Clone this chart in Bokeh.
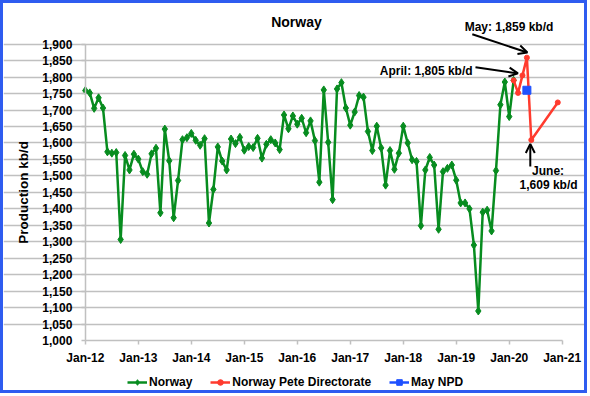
from bokeh.plotting import figure
from bokeh.models import (Range1d, FixedTicker, NumeralTickFormatter, Label, Arrow,
                          OpenHead, Legend, LegendItem)
from bokeh.embed import file_html
from bokeh.resources import INLINE

# ---------------- data (month index 0 = Jan-12) ----------------
norway = [1759, 1752, 1705, 1737, 1706, 1573, 1569, 1571, 1307, 1562, 1518, 1566,
          1551, 1513, 1505, 1567, 1584, 1388, 1642, 1546, 1373, 1486, 1610, 1616,
          1629, 1608, 1593, 1613, 1357, 1459, 1588, 1545, 1518, 1612, 1598, 1617,
          1578, 1589, 1586, 1614, 1554, 1596, 1610, 1600, 1580, 1685, 1643, 1682,
          1657, 1675, 1631, 1667, 1607, 1481, 1761, 1602, 1428, 1764, 1783, 1706,
          1654, 1694, 1744, 1739, 1635, 1577, 1651, 1585, 1472, 1577, 1520, 1569,
          1651, 1600, 1549, 1544, 1349, 1518, 1556, 1533, 1338, 1513, 1523, 1533,
          1487, 1418, 1418, 1400, 1290, 1090, 1390, 1396, 1333, 1516, 1716, 1785,
          1680, 1790]
norway_months = list(range(len(norway)))

npd_months = [97, 98, 99, 100, 101, 107]
npd_values = [1790, 1752, 1805, 1859, 1609, 1723]

may_npd_month = [100]
may_npd_value = [1760]

x_tick_months = [0, 12, 24, 36, 48, 60, 72, 84, 96, 108]
x_tick_labels = ["Jan-12", "Jan-13", "Jan-14", "Jan-15", "Jan-16", "Jan-17",
                 "Jan-18", "Jan-19", "Jan-20", "Jan-21"]
y_ticks = list(range(1000, 1901, 50))

# ---------------- layout / styling ----------------
FONT = "Liberation Sans"
GREEN = "#078C1F"
RED = "#FF3B2E"
BLUE = "#1E50FF"
GRID = "#C0C0C0"

W, H = 581, 387            # canvas size (whole canvas is the frame)
X0, X1 = 0, 108            # axis extent (Jan-12 .. Jan-21)
Y0, Y1 = 1000, 1900        # axis extent
AX_W, AX_H = 472, 292      # pixel length of the axes
LEFT_PAD, RIGHT_PAD = 81, W - 81 - AX_W
TOP_PAD, BOT_PAD = 40, H - 40 - AX_H
XS = AX_W / (X1 - X0)
YS = AX_H / (Y1 - Y0)

x_range = Range1d(X0 - LEFT_PAD / XS, X1 + RIGHT_PAD / XS)
y_range = Range1d(Y0 - BOT_PAD / YS, Y1 + TOP_PAD / YS)


def off(xd, yd, dx=0.0, dy=0.0):
    """data point shifted by screen pixels (dy positive = downward)"""
    return xd + dx / XS, yd - dy / YS


p = figure(width=W, height=H, output_backend="svg", toolbar_location=None,
           x_range=x_range, y_range=y_range,
           min_border_left=0, min_border_right=0, min_border_top=0,
           min_border_bottom=0)
p.styles = {"border": "3px solid #2F5CF0", "box-sizing": "content-box"}
p.outline_line_color = None
p.background_fill_color = "white"
p.border_fill_color = "white"

p.xgrid.visible = False
p.ygrid.ticker = FixedTicker(ticks=y_ticks[1:])
p.ygrid.grid_line_color = GRID
p.ygrid.grid_line_width = 1.5
p.ygrid.bounds = (X0, X1)

for ax in (p.xaxis[0], p.yaxis[0]):
    ax.axis_line_color = GRID
    ax.axis_line_width = 1.5
    ax.major_tick_line_color = GRID
    ax.major_tick_line_width = 1.5
    ax.major_tick_in = 0
    ax.major_tick_out = 4
    ax.minor_tick_line_color = None
    ax.major_label_text_font = FONT
    ax.major_label_text_font_style = "bold"
    ax.major_label_text_font_size = "12px"
    ax.major_label_text_color = "black"

p.xaxis.ticker = FixedTicker(ticks=x_tick_months)
p.xaxis.major_label_overrides = {m: l for m, l in zip(x_tick_months, x_tick_labels)}
p.xaxis.major_label_standoff = 6
p.xaxis.bounds = (X0, X1)
p.xaxis.fixed_location = Y0
p.yaxis.ticker = FixedTicker(ticks=y_ticks)
p.yaxis.formatter = NumeralTickFormatter(format="0,0")
p.yaxis.major_label_standoff = 9
p.yaxis.bounds = (Y0, Y1)
p.yaxis.fixed_location = X0
p.yaxis.axis_label = "Production kb/d"
p.yaxis.axis_label_text_font = FONT
p.yaxis.axis_label_text_font_style = "bold"
p.yaxis.axis_label_text_font_size = "13.5px"
p.yaxis.axis_label_text_color = "black"
p.yaxis.axis_label_standoff = 8

# ---------------- series ----------------
gl = p.line(norway_months, norway, line_color=GREEN, line_width=2.5)
gs = p.scatter(norway_months, norway, marker="diamond", size=8, fill_color=GREEN,
               line_color=GREEN, line_width=1)
rl = p.line(npd_months, npd_values, line_color=RED, line_width=2.5)
rs = p.scatter(npd_months, npd_values, marker="circle", size=5, fill_color=RED,
               line_color=RED)
bl = p.line(may_npd_month, may_npd_value, line_color=BLUE, line_width=2.5)
bs = p.scatter(may_npd_month, may_npd_value, marker="square", size=8, fill_color=BLUE,
               line_color=BLUE)

# ---------------- title ----------------
tx, ty = off(X0, Y1, dx=209, dy=-22)
p.add_layout(Label(x=tx, y=ty, text="Norway", text_font=FONT, text_font_style="bold",
                   text_font_size="14px", text_align="center", text_baseline="middle",
                   text_color="black"))

# ---------------- annotations ----------------
def label(xy, text, align="center"):
    p.add_layout(Label(x=xy[0], y=xy[1], text=text, text_font=FONT,
                       text_font_style="bold", text_font_size="12px", text_align=align,
                       text_baseline="middle", text_color="black"))


def arrow(a, b):
    p.add_layout(Arrow(x_start=a[0], y_start=a[1], x_end=b[0], y_end=b[1],
                       line_color="black", line_width=2,
                       end=OpenHead(size=9, line_color="black", line_width=2)))


apr_x, apr_y = npd_months[2], npd_values[2]
may_x, may_y = npd_months[3], npd_values[3]
jun_x, jun_y = npd_months[4], npd_values[4]

label(off(may_x, may_y, -17.7, -30.3), f"May: {may_y:,} kb/d")
arrow(off(may_x, may_y, -54, -23), off(may_x, may_y, 0.5, -5))

label(off(apr_x, apr_y, -49.4, -4.8), f"April: {apr_y:,} kb/d", align="right")
arrow(off(apr_x, apr_y, -46.5, -8), off(apr_x, apr_y, -4.5, -2))

label(off(jun_x, jun_y, 16.6, 31), "June:")
label(off(jun_x, jun_y, 17.1, 44.3), f"{jun_y:,} kb/d")
arrow(off(jun_x, jun_y, -1, 26), off(jun_x, jun_y, -1, 4))

# ---------------- legend ----------------
legend = Legend(items=[LegendItem(label="Norway", renderers=[gl, gs]),
                       LegendItem(label="Norway Pete Directorate", renderers=[rl, rs]),
                       LegendItem(label="May NPD", renderers=[bl, bs])],
                orientation="horizontal", location=(LEFT_PAD + 43, BOT_PAD - 48),
                border_line_color=None, background_fill_alpha=0,
                padding=0, margin=0, spacing=18, label_standoff=2,
                glyph_width=20, glyph_height=14, label_height=14,
                label_text_font=FONT, label_text_font_style="bold",
                label_text_font_size="12px", label_text_color="black")
p.add_layout(legend)

open("out.html", "w").write(file_html(p, INLINE))
